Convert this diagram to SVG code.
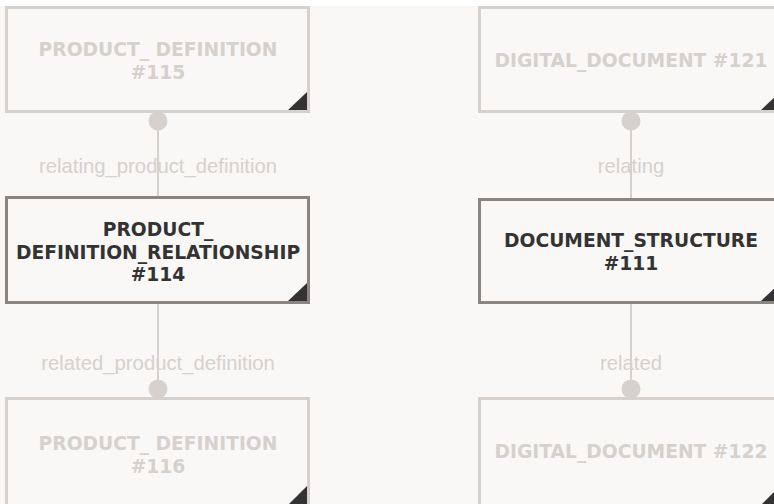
<svg xmlns="http://www.w3.org/2000/svg" width="774" height="504" viewBox="0 0 774 504">
<style>
.box{fill:#f9f8f6;stroke-width:3}
.faded{stroke:#d6d1cc}
.active{stroke:#8a8580}
.corner{fill:#333333}
.title{font-family:"DejaVu Sans",Verdana,sans-serif;font-weight:bold;font-size:18.7px;text-anchor:middle}
.ft{fill:#d6d1cc}
.at{fill:#333333}
.lbl{font-family:"Liberation Sans",Arial,sans-serif;font-size:20.3px;fill:#d6d1cc;text-anchor:middle}
.conn{stroke:#d6d1cc;stroke-width:2;fill:none}
.dot{fill:#d6d1cc}
</style>
<rect x="0" y="0" width="774" height="504" fill="#ffffff"/>
<rect x="0" y="6" width="774" height="498" fill="#f9f8f6"/>
<g id="connectors">
<line class="conn" x1="158" y1="121" x2="158" y2="197"/>
<line class="conn" x1="158" y1="303" x2="158" y2="389"/>
<line class="conn" x1="631" y1="121" x2="631" y2="199"/>
<line class="conn" x1="631" y1="303" x2="631" y2="389"/>
<circle class="dot" cx="158" cy="121" r="9.5"/>
<circle class="dot" cx="158" cy="389" r="9.5"/>
<circle class="dot" cx="631" cy="121" r="9.5"/>
<circle class="dot" cx="631" cy="389" r="9.5"/>
<text class="lbl" x="158" y="173">relating_product_definition</text>
<text class="lbl" x="158" y="370">related_product_definition</text>
<text class="lbl" x="631" y="173">relating</text>
<text class="lbl" x="631" y="370">related</text>
</g>
<g id="node115">
<rect class="box faded" x="6.5" y="7.5" width="302" height="104"/>
<polygon class="corner" points="307,92 307,110 288,110"/>
<text class="title ft" x="158" y="56">PRODUCT_ DEFINITION</text>
<text class="title ft" x="158" y="79">#115</text>
</g>
<g id="node114">
<rect class="box active" x="6.5" y="197.5" width="302" height="105"/>
<polygon class="corner" points="307,283 307,301 288,301"/>
<text class="title at" x="158" y="236">PRODUCT_</text>
<text class="title at" x="158" y="258.5">DEFINITION_RELATIONSHIP</text>
<text class="title at" x="158" y="281">#114</text>
</g>
<g id="node116">
<rect class="box faded" x="6.5" y="398.5" width="302" height="108"/>
<polygon class="corner" points="307,486 307,505 288,505"/>
<text class="title ft" x="158" y="449.5">PRODUCT_ DEFINITION</text>
<text class="title ft" x="158" y="472.5">#116</text>
</g>
<g id="node121">
<rect class="box faded" x="479.5" y="7.5" width="302" height="104"/>
<polygon class="corner" points="780,92 780,110 761,110"/>
<text class="title ft" x="631" y="67">DIGITAL_DOCUMENT #121</text>
</g>
<g id="node111">
<rect class="box active" x="479.5" y="199.5" width="302" height="103"/>
<polygon class="corner" points="780,283 780,301 761,301"/>
<text class="title at" x="631" y="247">DOCUMENT_STRUCTURE</text>
<text class="title at" x="631" y="270">#111</text>
</g>
<g id="node122">
<rect class="box faded" x="479.5" y="398.5" width="302" height="108"/>
<polygon class="corner" points="780,486 780,505 761,505"/>
<text class="title ft" x="631" y="458">DIGITAL_DOCUMENT #122</text>
</g>
</svg>
